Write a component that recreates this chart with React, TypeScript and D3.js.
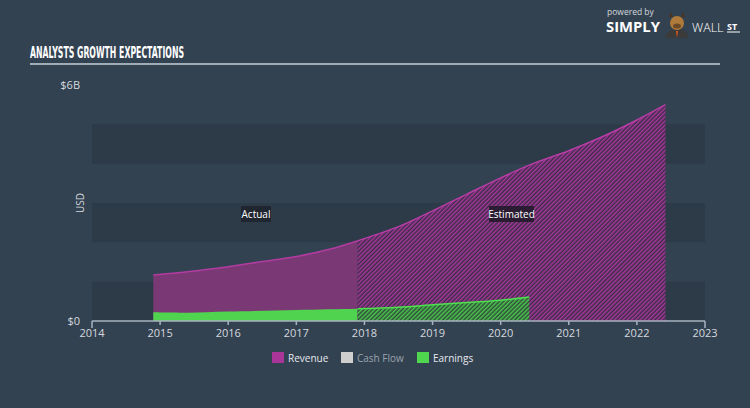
import React from "react";
import * as d3 from "d3";

const xTicks = [2014, 2015, 2016, 2017, 2018, 2019, 2020, 2021, 2022, 2023];
const revenueYears = [2014.9, 2015.4, 2016, 2016.5, 2017, 2017.5, 2017.9, 2018.5, 2019, 2019.5, 2020, 2020.5, 2021, 2021.5, 2022, 2022.42];
const revenueValues = [1.17, 1.25, 1.38, 1.51, 1.64, 1.83, 2.04, 2.4, 2.8, 3.22, 3.64, 4.02, 4.33, 4.69, 5.11, 5.5];
const earningsYears = [2014.9, 2015.4, 2016, 2017, 2017.9, 2018.5, 2019, 2019.5, 2020, 2020.42];
const earningsValues = [0.22, 0.21, 0.24, 0.28, 0.31, 0.35, 0.41, 0.47, 0.53, 0.61];
const splitYear = 2017.9;
const bandStarts = [0, 2, 4];
const yLabels = [
  { v: 6, t: "$6B" },
  { v: 0, t: "$0" },
];
const legendItems = [
  { name: "Revenue", color: "#a83597", text: "#e6e9ee" },
  { name: "Cash Flow", color: "#cfcfcf", text: "#9ba4af" },
  { name: "Earnings", color: "#4fd84f", text: "#e6e9ee" },
];

export default function App() {
  const W = 750, H = 408;
  const x = d3.scaleLinear().domain([2014, 2023]).range([92, 705]);
  const y = d3.scaleLinear().domain([0, 6]).range([321, 85]);
  const rev = revenueYears.map((d, i) => [d, revenueValues[i]] as [number, number]);
  const earn = earningsYears.map((d, i) => [d, earningsValues[i]] as [number, number]);
  const curve = d3.curveCatmullRom.alpha(0.5);
  const area = d3.area<[number, number]>().x(d => x(d[0])).y0(y(0)).y1(d => y(d[1])).curve(curve);
  const line = d3.line<[number, number]>().x(d => x(d[0])).y(d => y(d[1])).curve(curve);
  const sx = x(splitYear);
  const font = "'Open Sans', 'DejaVu Sans', sans-serif";

  return (
    <svg width={W} height={H} style={{ position: "absolute", left: 0, top: 0 }} fontFamily={font}>
      <defs>
        <pattern id="hatchR" width="3" height="3" patternUnits="userSpaceOnUse" patternTransform="rotate(45)">
          <rect width="3" height="3" fill="#3a2d48" />
          <rect width="1.5" height="3" fill="#a8369a" />
        </pattern>
        <pattern id="hatchG" width="3" height="3" patternUnits="userSpaceOnUse" patternTransform="rotate(45)">
          <rect width="3" height="3" fill="#2f4a3c" />
          <rect width="1.5" height="3" fill="#4cc94c" />
        </pattern>
        <clipPath id="actual"><rect x={0} y={0} width={sx} height={H} /></clipPath>
        <clipPath id="est"><rect x={sx} y={0} width={W - sx} height={H} /></clipPath>
      </defs>
      <rect width={W} height={H} fill="#334251" />
      {/* title */}
      <text x={30} y={58} fill="#ffffff" fontSize={15} fontWeight="bold"
        fontFamily="'Liberation Sans Narrow', 'DejaVu Sans Condensed', sans-serif"
        textLength={154} lengthAdjust="spacingAndGlyphs">ANALYSTS GROWTH EXPECTATIONS</text>
      <line x1={30} x2={720} y1={64} y2={64} stroke="#c9d1da" strokeWidth={1.5} />
      {/* logo */}
      <text x={607} y={15} fill="#d3d8de" fontSize={8.5}>powered by</text>
      <text x={606} y={32} fill="#ffffff" fontSize={14} fontWeight="bold" textLength={54} lengthAdjust="spacingAndGlyphs">SIMPLY</text>
      <path d="M665,38 Q667,29 677,29 Q687,29 689,38 Z" fill="#3b3b3b" />
      <polygon points="676,31 678,31 677,38" fill="#e05a20" />
      <circle cx={677} cy={23} r={7} fill="#b07a3a" />
      <path d="M669,17 L671,12 L673,17 Z M681,17 L683,12 L685,17 Z" fill="#4a3620" />
      <ellipse cx={677} cy={26} rx={4} ry={2.5} fill="#6b4a2a" />
      <text x={692} y={32} fill="#ffffff" fontSize={12.5} fontWeight="300">WALL</text>
      <text x={727} y={30} fill="#ffffff" fontSize={9} fontWeight="bold">ST</text>
      <line x1={727} x2={740} y1={32} y2={32} stroke="#fff" strokeWidth={1} />
      {/* bands */}
      {bandStarts.map(b => (
        <rect key={b} x={x(2014)} width={x(2023) - x(2014)} y={y(b + 1)} height={y(b) - y(b + 1)} fill="#2d3a48" />
      ))}
      {/* y labels */}
      {yLabels.map(l => (
        <text key={l.t} x={80} y={y(l.v) + 4} textAnchor="end" fill="#d5d9df" fontSize={11}>{l.t}</text>
      ))}
      <text transform={`translate(84,${203}) rotate(-90)`} textAnchor="middle" fill="#d5d9df" fontSize={10}>USD</text>
      {/* actual */}
      <g clipPath="url(#actual)">
        <path d={area(rev) || ""} fill="#7a3874" />
        <path d={line(rev) || ""} fill="none" stroke="#b23ca2" strokeWidth={1.5} />
        <path d={area(earn) || ""} fill="#50d450" />
      </g>
      <g clipPath="url(#est)">
        <path d={area(rev) || ""} fill="url(#hatchR)" />
        <path d={line(rev) || ""} fill="none" stroke="#b83ea6" strokeWidth={1.5} />
        <path d={area(earn) || ""} fill="url(#hatchG)" />
        <path d={line(earn) || ""} fill="none" stroke="#4fe04f" strokeWidth={1.5} />
      </g>
      {/* axis */}
      <line x1={x(2014)} x2={x(2023)} y1={y(0)} y2={y(0)} stroke="#a9b3bf" strokeWidth={1.5} />
      {xTicks.map((t, i) => {
        const end = i === 0 || i === xTicks.length - 1;
        return (
          <g key={t}>
            <line x1={x(t)} x2={x(t)} y1={y(0)} y2={y(0) + (end ? 7 : 4)} stroke="#a9b3bf" strokeWidth={1.5} />
            <text x={x(t)} y={y(0) + 16} textAnchor="middle" fill="#d5d9df" fontSize={11}>{t}</text>
          </g>
        );
      })}
      {/* labels */}
      <rect x={241} y={206} width={30} height={16} fill="#1e252e" opacity={0.9} />
      <text x={256} y={218} textAnchor="middle" fill="#ffffff" fontSize={10}>Actual</text>
      <rect x={489} y={206} width={45} height={16} fill="#241a2c" opacity={0.9} />
      <text x={511.5} y={218} textAnchor="middle" fill="#ffffff" fontSize={10}>Estimated</text>
      {/* legend */}
      {legendItems.map((l, i) => {
        const lx = [272, 341, 417][i];
        return (
          <g key={l.name}>
            <rect x={lx} y={352} width={12} height={11} fill={l.color} />
            <text x={lx + 16} y={361.5} fill={l.text} fontSize={10}>{l.name}</text>
          </g>
        );
      })}
    </svg>
  );
}
